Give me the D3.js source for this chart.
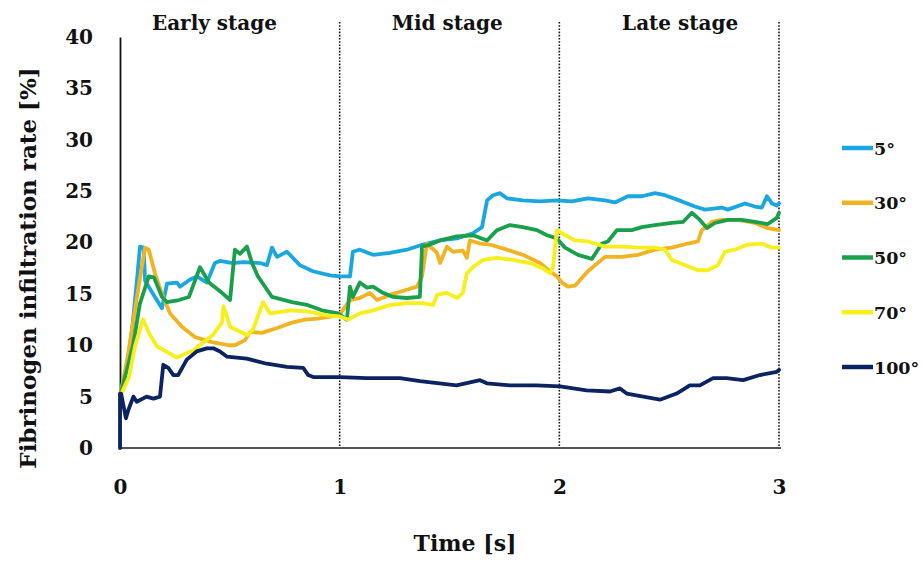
<!DOCTYPE html>
<html>
<head>
<meta charset="utf-8">
<script src="https://cdn.jsdelivr.net/npm/d3@7"></script>
<style>
  html, body { margin: 0; padding: 0; background: #fff; }
  svg { display: block; }
  text { font-family: "DejaVu Serif", serif; font-weight: bold; fill: #111; }
</style>
</head>
<body>
<svg id="chart" width="921" height="561"></svg>
<script>
// ---- data ----
const seriesNames = ["5°", "30°", "50°", "70°", "100°"];
const seriesColors = ["#1aa7e0", "#f2b322", "#1aa04c", "#f6ef1c", "#0b2461"];
const yTicks = [0, 5, 10, 15, 20, 25, 30, 35, 40];
const xTicks = [0, 1, 2, 3];
const stageLabels = ["Early stage", "Mid stage", "Late stage"];
const stageCenters = [0.43, 1.49, 2.55];
const stageBounds = [1, 2, 3];

const s5 = [[0,5.0],[0.032,8],[0.055,11.5],[0.077,16.3],[0.091,19.6],[0.108,19.5],[0.114,16.3],[0.159,14.7],[0.191,13.6],[0.214,16.0],[0.259,16.1],[0.273,15.7],[0.319,16.4],[0.350,16.7],[0.396,16.1],[0.432,18.0],[0.455,18.2],[0.514,18.0],[0.560,18.1],[0.637,18.0],[0.669,17.8],[0.692,19.5],[0.715,18.6],[0.760,19.1],[0.819,17.8],[0.878,17.2],[0.956,16.8],[1.001,16.7],[1.047,16.7],[1.060,19.1],[1.092,19.3],[1.152,18.8],[1.229,19.0],[1.306,19.3],[1.379,19.8],[1.457,20.2],[1.534,20.4],[1.607,20.9],[1.648,21.5],[1.671,24.1],[1.698,24.6],[1.730,24.8],[1.761,24.3],[1.834,24.1],[1.912,24.0],[1.989,24.1],[2.057,24.0],[2.130,24.3],[2.208,24.1],[2.253,23.9],[2.312,24.5],[2.376,24.5],[2.435,24.8],[2.481,24.6],[2.558,24.0],[2.617,23.5],[2.663,23.2],[2.740,23.4],[2.767,23.2],[2.845,23.8],[2.890,23.5],[2.922,23.4],[2.945,24.5],[2.968,23.8],[2.990,23.6],[3.0,23.8]];
const s30 = [[0,5.0],[0.036,9],[0.077,14.7],[0.114,19.5],[0.131,19.3],[0.159,17.0],[0.191,15.0],[0.228,13.1],[0.282,11.8],[0.341,10.8],[0.419,10.3],[0.496,10.0],[0.523,10.0],[0.569,10.5],[0.592,11.3],[0.646,11.2],[0.674,11.4],[0.719,11.7],[0.783,12.2],[0.842,12.5],[0.901,12.6],[0.965,12.8],[1.001,13.0],[1.047,14.4],[1.092,14.6],[1.138,15.1],[1.170,14.4],[1.229,14.9],[1.306,15.4],[1.352,15.7],[1.375,16.7],[1.397,19.9],[1.443,19.0],[1.457,18.0],[1.488,19.6],[1.516,19.1],[1.561,19.2],[1.579,18.5],[1.593,20.2],[1.639,19.9],[1.684,19.8],[1.761,19.3],[1.834,18.8],[1.912,18.0],[1.957,17.2],[1.989,16.7],[2.012,16.1],[2.039,15.7],[2.071,15.8],[2.130,17.2],[2.208,18.6],[2.285,18.6],[2.358,18.8],[2.435,19.3],[2.512,19.5],[2.585,19.9],[2.631,20.1],[2.649,21.2],[2.694,22.0],[2.740,22.2],[2.813,22.2],[2.890,21.9],[2.949,21.4],[3.0,21.2]];
const s50 = [[0,5.0],[0.030,7.5],[0.060,10],[0.090,14],[0.131,16.7],[0.155,16.6],[0.191,14.7],[0.214,14.2],[0.268,14.4],[0.314,14.7],[0.364,17.6],[0.405,16.1],[0.464,15.1],[0.501,14.4],[0.523,19.3],[0.546,18.9],[0.578,19.6],[0.601,18.0],[0.628,16.7],[0.692,14.7],[0.783,14.2],[0.856,13.9],[0.919,13.4],[0.992,13.1],[1.033,12.5],[1.047,15.7],[1.060,14.7],[1.092,16.1],[1.124,15.6],[1.152,15.7],[1.197,15.1],[1.243,14.7],[1.306,14.6],[1.365,14.7],[1.375,19.6],[1.411,19.8],[1.457,20.2],[1.534,20.6],[1.607,20.7],[1.671,20.2],[1.716,21.2],[1.775,21.7],[1.834,21.5],[1.898,21.2],[1.944,20.7],[1.989,20.4],[2.026,19.5],[2.085,18.8],[2.148,18.4],[2.194,19.9],[2.221,20.1],[2.262,21.2],[2.330,21.2],[2.376,21.5],[2.435,21.7],[2.512,21.9],[2.563,22.0],[2.603,22.9],[2.640,22.2],[2.672,21.4],[2.708,21.9],[2.767,22.2],[2.831,22.2],[2.890,22.0],[2.949,21.8],[2.990,22.4],[3.0,22.9]];
const s70 = [[0,5.0],[0.041,6.9],[0.068,9.9],[0.105,12.5],[0.137,11.0],[0.168,9.9],[0.259,8.8],[0.332,9.5],[0.423,11.0],[0.464,12.2],[0.471,13.8],[0.501,11.8],[0.578,11.0],[0.605,11.5],[0.651,14.2],[0.683,13.1],[0.715,13.2],[0.774,13.4],[0.851,13.3],[0.942,12.9],[1.001,12.8],[1.038,12.5],[1.092,13.1],[1.152,13.4],[1.229,13.9],[1.306,14.1],[1.379,14.1],[1.425,13.9],[1.443,14.9],[1.488,15.1],[1.534,14.6],[1.561,15.1],[1.579,17.0],[1.607,17.6],[1.652,18.3],[1.716,18.5],[1.789,18.3],[1.866,18.0],[1.925,17.5],[1.957,17.0],[1.971,17.6],[1.989,21.2],[2.012,20.9],[2.071,20.2],[2.130,20.1],[2.208,19.6],[2.285,19.6],[2.358,19.5],[2.435,19.5],[2.481,19.3],[2.512,18.3],[2.571,17.8],[2.631,17.3],[2.676,17.3],[2.722,17.8],[2.754,19.1],[2.799,19.3],[2.858,19.8],[2.922,19.9],[2.968,19.5],[3.0,19.5]];
const s100 = [[0,0],[0,5.3],[0.005,5.3],[0.027,2.9],[0.038,3.7],[0.061,5.0],[0.076,4.5],[0.121,5.0],[0.152,4.8],[0.182,5.0],[0.197,8.1],[0.220,7.8],[0.243,7.1],[0.265,7.1],[0.304,8.6],[0.349,9.4],[0.395,9.7],[0.425,9.7],[0.455,9.4],[0.486,8.9],[0.577,8.7],[0.668,8.2],[0.760,7.9],[0.834,7.8],[0.857,7.1],[0.880,6.9],[1.001,6.9],[1.123,6.8],[1.274,6.8],[1.366,6.5],[1.532,6.1],[1.639,6.6],[1.670,6.3],[1.775,6.1],[1.896,6.1],[2.003,6.0],[2.124,5.6],[2.230,5.5],[2.276,5.8],[2.307,5.3],[2.382,5.0],[2.458,4.7],[2.534,5.3],[2.594,6.1],[2.640,6.1],[2.700,6.8],[2.761,6.8],[2.837,6.6],[2.913,7.1],[2.990,7.4],[3.0,7.6]];
const seriesData = [s5, s30, s50, s70, s100];

// ---- layout ----
const svg = d3.select("#chart");
const x = d3.scaleLinear().domain([0, 3]).range([120, 779]);
const y = d3.scaleLinear().domain([0, 40]).range([448, 37]);

// dotted stage boundaries
svg.selectAll("line.stage").data(stageBounds).enter().append("line")
  .attr("x1", d => x(d)).attr("x2", d => x(d))
  .attr("y1", 22).attr("y2", y(0))
  .attr("stroke", "#111").attr("stroke-width", 1.6)
  .attr("stroke-dasharray", "1.6,1.6");

// stage labels
svg.selectAll("text.stage").data(stageLabels).enter().append("text")
  .attr("x", (d, i) => x(stageCenters[i])).attr("y", 30)
  .attr("text-anchor", "middle").attr("font-size", 20)
  .text(d => d);

// axes
const yAxis = d3.axisLeft(y).tickValues(yTicks).tickSize(0).tickPadding(27).tickFormat(d3.format("d"));
const gy = svg.append("g").attr("transform", `translate(${x(0)},0)`).call(yAxis);
gy.select(".domain").attr("stroke", "#111").attr("stroke-width", 1.8);
gy.selectAll("text").attr("font-size", 20).attr("fill", "#111");

const xAxis = d3.axisBottom(x).tickValues(xTicks).tickSize(0).tickPadding(32).tickFormat(d3.format("d"));
const gx = svg.append("g").attr("transform", `translate(0,${y(0)})`).call(xAxis);
gx.select(".domain").attr("stroke", "#555").attr("stroke-width", 2).attr("d", `M${x(0)},0H${x(3) + 2}`);
gx.selectAll("text").attr("font-size", 20).attr("fill", "#111");

// lines
const line = d3.line().x(d => x(d[0])).y(d => y(d[1]));
svg.selectAll("path.series").data(seriesData).enter().append("path")
  .attr("class", "series")
  .attr("d", d => line(d))
  .attr("fill", "none")
  .attr("stroke", (d, i) => seriesColors[i])
  .attr("stroke-width", 3.8)
  .attr("stroke-linejoin", "round")
  .attr("stroke-linecap", "round");

// axis titles
svg.append("text").attr("x", 465).attr("y", 551).attr("text-anchor", "middle")
  .attr("font-size", 22).text("Time [s]");
svg.append("text").attr("transform", "translate(36,268) rotate(-90)")
  .attr("text-anchor", "middle").attr("font-size", 23)
  .text("Fibrinogen infiltration rate [%]");

// legend
const legendY = d3.scalePoint().domain(seriesNames).range([148, 367]);
const lg = svg.selectAll("g.legend").data(seriesNames).enter().append("g")
  .attr("transform", d => `translate(842,${legendY(d)})`);
lg.append("line").attr("x1", 0).attr("x2", 31).attr("y1", 0).attr("y2", 0)
  .attr("stroke", (d, i) => seriesColors[i]).attr("stroke-width", 4.5);
lg.append("text").attr("x", 32).attr("y", 6.5).attr("font-size", 17.5).text(d => d);
</script>
</body>
</html>
